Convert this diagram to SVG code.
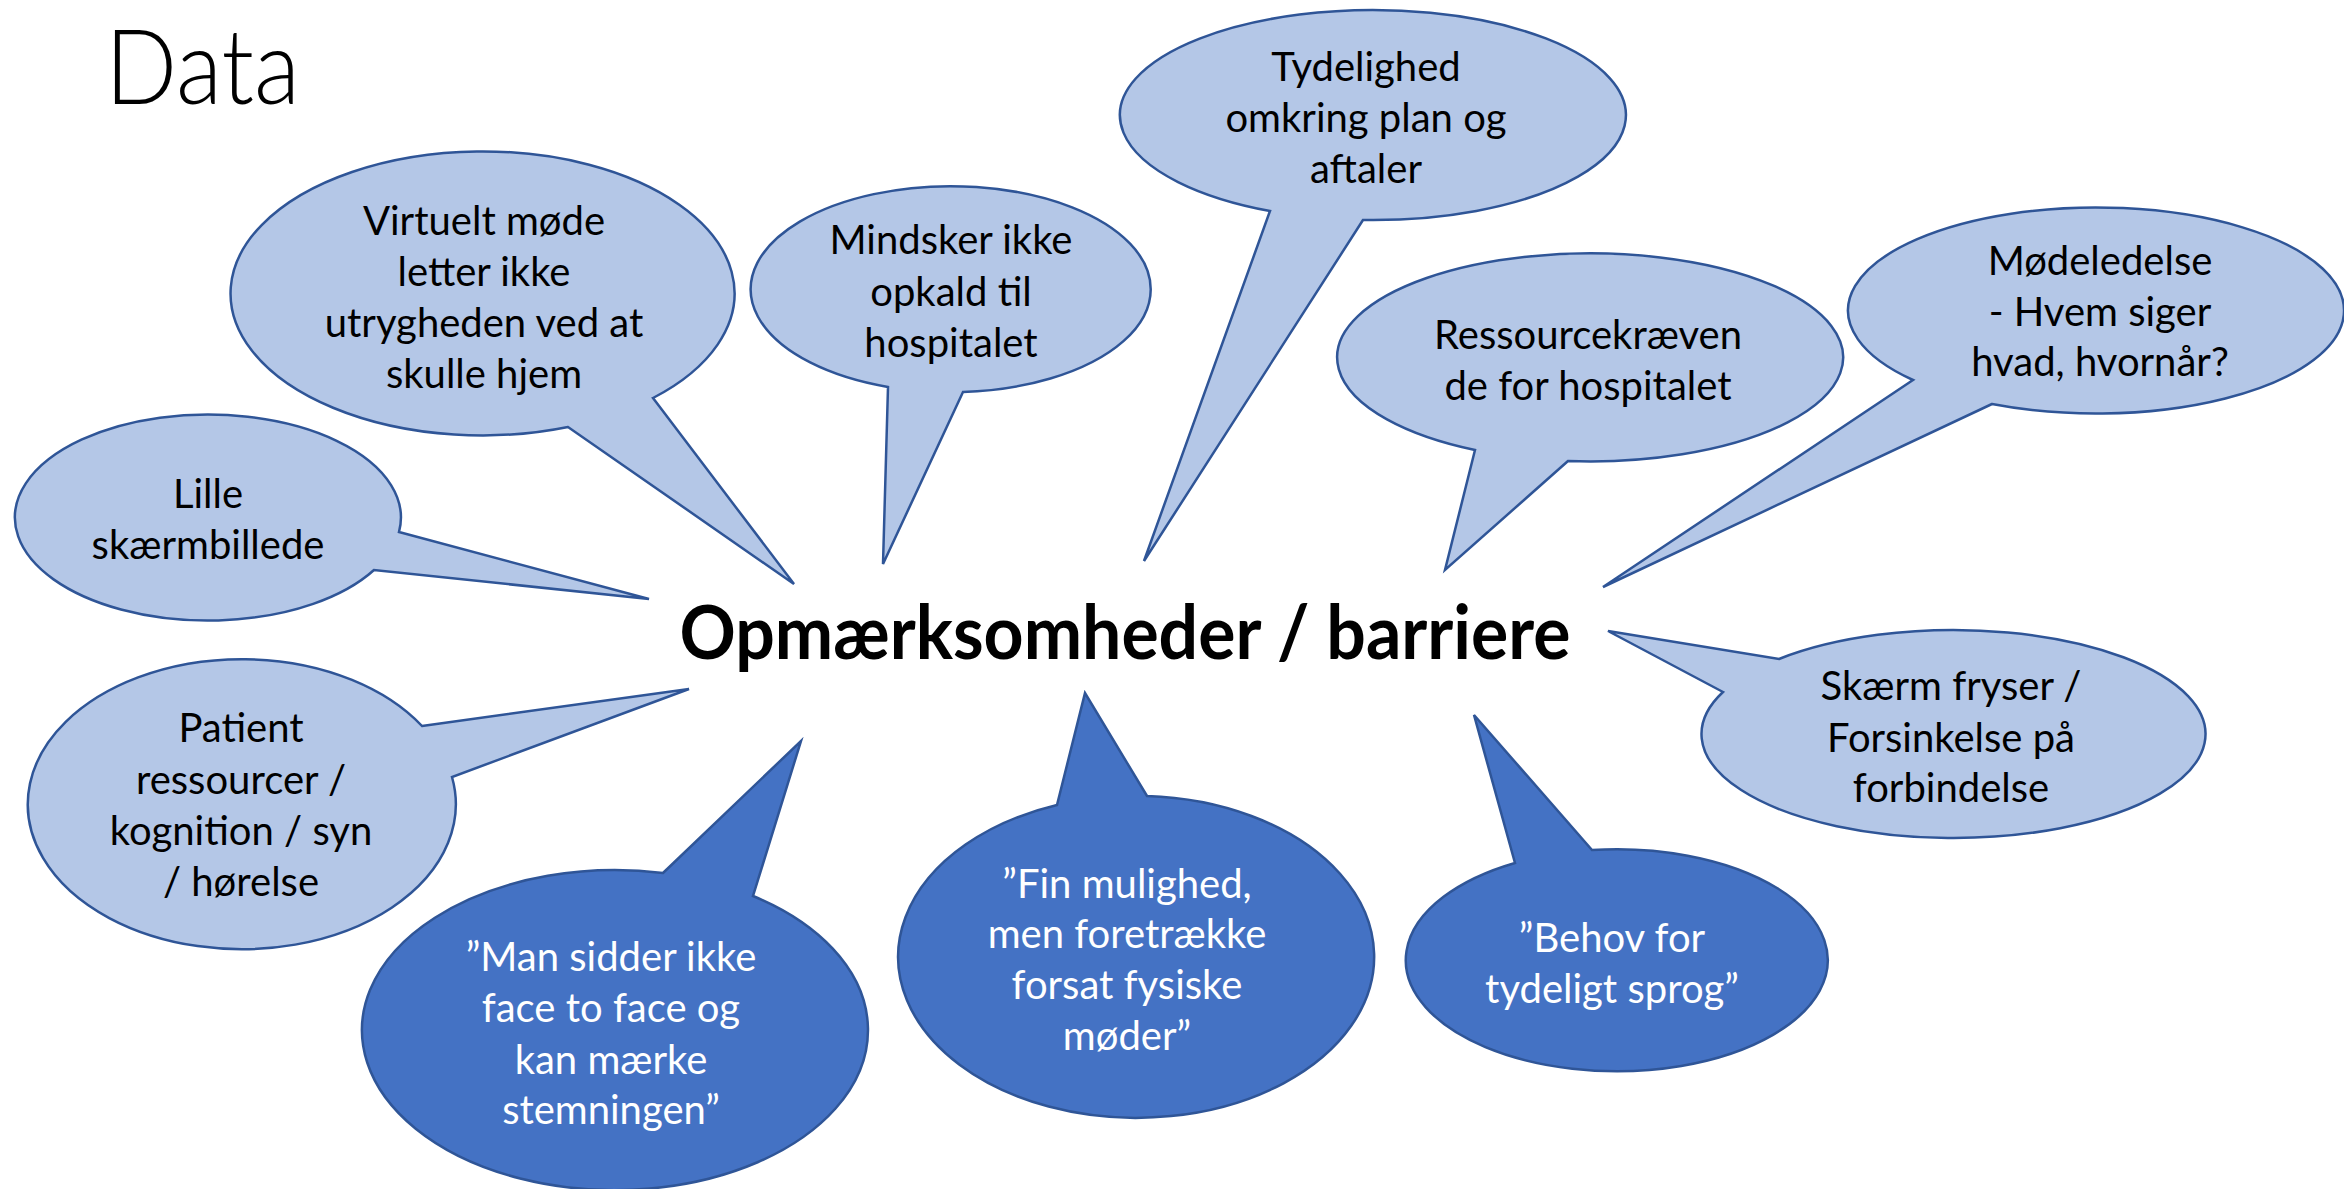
<svg xmlns="http://www.w3.org/2000/svg" width="2344" height="1189" viewBox="0 0 2344 1189">
<style>
.light{fill:#B4C7E7;stroke:#2F5597;stroke-width:2.5;stroke-linejoin:miter}
.dark{fill:#4472C4;stroke:#2F5597;stroke-width:2.5;stroke-linejoin:miter}
.t{font-family:Lato,"Open Sans",sans-serif;font-size:40px;text-anchor:middle;fill:#000}
.w{fill:#fff}
.title{font-family:Lato,"Open Sans",sans-serif;font-size:104px;font-weight:300;fill:#000}
.main{font-family:Lato,"Open Sans",sans-serif;font-size:74px;font-weight:700;text-anchor:middle;fill:#000}
</style>
<rect width="2344" height="1189" fill="#fff"/>
<text class="title" x="105" y="104" textLength="195" lengthAdjust="spacingAndGlyphs">Data</text>
<g id="connectors"></g>
<g id="center"><text class="main" x="1125" y="659" textLength="891" lengthAdjust="spacingAndGlyphs">Opmærksomheder / barriere</text></g>
<g id="n-virtuelt">
<path class="light" d="M653 398 L794 584 L568 427 A252 142 0 1 1 653 398 Z"/>
<text class="t" x="484" y="235">Virtuelt møde</text>
<text class="t" x="484" y="286">letter ikke</text>
<text class="t" x="484" y="337">utrygheden ved at</text>
<text class="t" x="484" y="388">skulle hjem</text>
</g>
<g id="n-mindsker">
<path class="light" d="M963 392 L883 564 L888 387 A200 103 0 1 1 963 392 Z"/>
<text class="t" x="951" y="254">Mindsker ikke</text>
<text class="t" x="951" y="306">opkald til</text>
<text class="t" x="951" y="357">hospitalet</text>
</g>
<g id="n-tydelighed">
<path class="light" d="M1363 220 L1144 561 L1270 211 A253 105 0 1 1 1363 220 Z"/>
<text class="t" x="1366" y="81">Tydelighed</text>
<text class="t" x="1366" y="132">omkring plan og</text>
<text class="t" x="1366" y="183">aftaler</text>
</g>
<g id="n-ressource">
<path class="light" d="M1568 461 L1445 570 L1475 450 A253 104 0 1 1 1568 461 Z"/>
<text class="t" x="1588" y="349">Ressourcekræven</text>
<text class="t" x="1588" y="400">de for hospitalet</text>
</g>
<g id="n-moedeledelse">
<path class="light" d="M1992 404 L1603 587 L1913 380 A248 103 0 1 1 1992 404 Z"/>
<text class="t" x="2100" y="275">Mødeledelse</text>
<text class="t" x="2100" y="326">- Hvem siger</text>
<text class="t" x="2100" y="376">hvad, hvornår?</text>
</g>
<g id="n-skaerm">
<path class="light" d="M1723 692 L1608 631 L1779 659 A252 104 0 1 1 1723 692 Z"/>
<text class="t" x="1951" y="700">Skærm fryser /</text>
<text class="t" x="1951" y="752">Forsinkelse på</text>
<text class="t" x="1951" y="802">forbindelse</text>
</g>
<g id="n-lille">
<path class="light" d="M399 532 L649 599 L374 570 A193 103 0 1 1 399 532 Z"/>
<text class="t" x="208" y="508">Lille</text>
<text class="t" x="208" y="559">skærmbillede</text>
</g>
<g id="n-patient">
<path class="light" d="M422 726 L689 689 L452 777 A214 145 0 1 1 422 726 Z"/>
<text class="t" x="241" y="742">Patient</text>
<text class="t" x="241" y="794">ressourcer /</text>
<text class="t" x="241" y="845">kognition / syn</text>
<text class="t" x="241" y="896">/ hørelse</text>
</g>
<g id="n-man">
<path class="dark" d="M663 873 L801 741 L753 896 A253 160 0 1 1 663 873 Z"/>
<text class="t w" x="611" y="971">”Man sidder ikke</text>
<text class="t w" x="611" y="1022">face to face og</text>
<text class="t w" x="611" y="1074">kan mærke</text>
<text class="t w" x="611" y="1124">stemningen”</text>
</g>
<g id="n-fin">
<path class="dark" d="M1057 805 L1085 693 L1147 796 A238 161 0 1 1 1057 805 Z"/>
<text class="t w" x="1127" y="898">”Fin mulighed,</text>
<text class="t w" x="1127" y="948">men foretrække</text>
<text class="t w" x="1127" y="999">forsat fysiske</text>
<text class="t w" x="1127" y="1050">møder”</text>
</g>
<g id="n-behov">
<path class="dark" d="M1515 863 L1474 715 L1592 850 A211 111 0 1 1 1515 863 Z"/>
<text class="t w" x="1612" y="952">”Behov for</text>
<text class="t w" x="1612" y="1003">tydeligt sprog”</text>
</g>
</svg>
